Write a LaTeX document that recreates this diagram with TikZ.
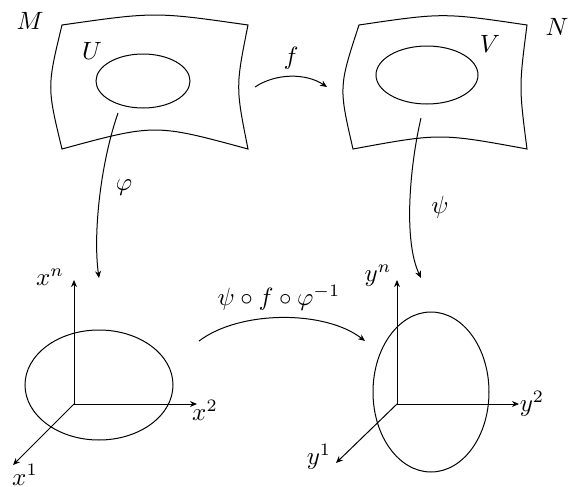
\documentclass[tikz,border=0pt]{standalone}
\usepackage{tikz}
\usetikzlibrary{arrows.meta}
\usepackage{amsmath,amssymb}

\begin{document}
\begin{tikzpicture}[x=0.4pt,y=-0.4pt,
    map/.style={-{Stealth[length=2.8pt,width=2.4pt]}},
    axis/.style={-{Stealth[length=2.8pt,width=2.4pt]}}]
  \useasboundingbox (0,0) rectangle (568,487);

  % Manifold M with chart domain U
  \draw (62,25) .. controls (155,11.7) .. (248,25)
        .. controls (235.6,87) .. (248,149)
        .. controls (155,123.7) .. (62,149)
        .. controls (47,87) .. cycle;
  \draw (143,81) ellipse (47 and 27);
  \node (M) at (30,21) {$M$};
  \node (U) at (92,51) {$U$};

  % Manifold N with chart domain V
  \draw (359,25) .. controls (443,12.6) .. (527,25)
        .. controls (519,87) .. (527,149)
        .. controls (440,133) .. (353,149)
        .. controls (338.7,87) .. cycle;
  \draw (427,75) ellipse (51 and 29);
  \node (N) at (557,27) {$N$};
  \node (V) at (490,44) {$V$};

  % f
  \coordinate (fS) at (255,87);
  \coordinate (fE) at (327,87);
  \draw[map] (fS) .. controls (276,73) and (306,73) .. (fE);
  \node (f) at (291,58) {$f$};

  % Charts
  \coordinate (phiS) at (118,113);
  \coordinate (phiE) at (99,278);
  \draw[map] (phiS) .. controls (100,165) and (93,235) .. (phiE);
  \node (phi) at (124,188) {$\varphi$};

  \coordinate (psiS) at (421,118);
  \coordinate (psiE) at (421,278);
  \draw[map] (psiS) .. controls (410,165) and (403,240) .. (psiE);
  \node (psi) at (440,207) {$\psi$};

  % Coordinate space of M
  \coordinate (O1) at (74,404);
  \coordinate (x1) at (13,465);
  \coordinate (x2) at (197,404);
  \coordinate (xn) at (74,280);
  \draw (99,385) ellipse (74 and 55);
  \draw[axis] (O1) -- (xn);
  \draw[axis] (O1) -- (x2);
  \draw[axis] (O1) -- (x1);
  \node (lxn) at (50,277) {$x^n$};
  \node (lx2) at (205,410) {$x^2$};
  \node[anchor=base,inner sep=0pt] (lx1) at (25,485) {$x^1$};

  % Coordinate space of N
  \coordinate (O2) at (397,404);
  \coordinate (y1) at (336,463);
  \coordinate (y2) at (519,404);
  \coordinate (yn) at (397,280);
  \draw (431,392) ellipse (58 and 80);
  \draw[axis] (O2) -- (yn);
  \draw[axis] (O2) -- (y2);
  \draw[axis] (O2) -- (y1);
  \node (lyn) at (378,276) {$y^n$};
  \node (ly2) at (532,404) {$y^2$};
  \node (ly1) at (319,457) {$y^1$};

  % Transition map
  \coordinate (tS) at (199,341);
  \coordinate (tE) at (365,341);
  \draw[map] (tS) .. controls (240,310) and (325,310) .. (tE);
  \node (t) at (279,298) {$\psi\circ f\circ\varphi^{-1}$};
\end{tikzpicture}
\end{document}
